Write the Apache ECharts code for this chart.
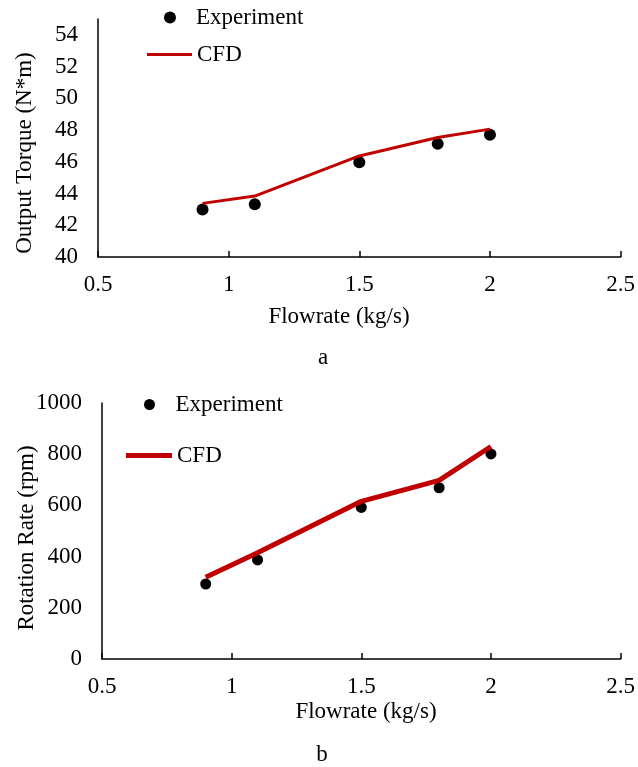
<!DOCTYPE html>
<html>
<head>
<meta charset="utf-8">
<script src="https://cdn.jsdelivr.net/npm/echarts@6/dist/echarts.min.js"></script>
<style>
html,body{margin:0;padding:0;background:#fff;}
#chart{width:638px;height:767px;}
</style>
</head>
<body>
<div id="chart"></div>
<script>
var flowrate = [0.9, 1.1, 1.5, 1.8, 2.0];
var torqueExperiment = [43.0, 43.33, 45.97, 47.13, 47.7];
var torqueCFD = [43.38, 43.84, 46.37, 47.53, 48.06];
var rpmExperiment = [293, 387, 592, 669, 801];
var rpmCFD = [319, 415, 616, 698, 830];

function pairs(xs, ys) { return xs.map(function (x, i) { return [x, ys[i]]; }); }

var FONT = '"Liberation Serif", "Times New Roman", serif';
var FS = 23;
var RED = '#C00000';
var txt = { fontFamily: FONT, fontSize: FS, color: '#000' };

function xAxisCfg(gi) {
  return {
    type: 'value', gridIndex: gi, min: 0.5, max: 2.5, interval: 0.5,
    axisLine: { lineStyle: { color: '#000', width: 1.5 } },
    axisTick: { show: true, inside: true, length: 6, lineStyle: { color: '#000', width: 1.5 } },
    axisLabel: Object.assign({ margin: 16, formatter: function (v) { return String(v); } }, txt),
    splitLine: { show: false }
  };
}
function yAxisCfg(gi, min, max, interval) {
  return {
    type: 'value', gridIndex: gi, min: min, max: max, interval: interval,
    axisLine: { show: true, lineStyle: { color: '#000', width: 1.5 } },
    axisTick: { show: false },
    axisLabel: Object.assign({ margin: 20, showMaxLabel: max % interval === 0,
      formatter: function (v) { return String(v); } }, txt),
    splitLine: { show: false }
  };
}

var chart = echarts.init(document.getElementById('chart'), null, { renderer: 'canvas' });
chart.setOption({
  backgroundColor: '#fff',
  animation: false,
  grid: [
    { left: 98, right: 15, top: 19, bottom: 510, containLabel: false },
    { left: 102, right: 16, top: 403, bottom: 108, containLabel: false }
  ],
  xAxis: [xAxisCfg(0), xAxisCfg(1)],
  yAxis: [yAxisCfg(0, 40, 55, 2), yAxisCfg(1, 0, 1000, 200)],
  legend: [
    { data: ['Experiment'], left: 164, top: 6, padding: 0, itemWidth: 42, itemHeight: 12, itemGap: 0, textStyle: txt, selectedMode: false },
    { data: [{ name: 'CFD', icon: 'rect' }], left: 147, top: 43, padding: 0, itemWidth: 45, itemHeight: 3, itemGap: 0,
      itemStyle: { color: RED }, textStyle: txt, selectedMode: false },
    { data: ['Experiment '], left: 144, top: 393, padding: 0, itemWidth: 42, itemHeight: 11, itemGap: 0, textStyle: txt, selectedMode: false },
    { data: [{ name: 'CFD ', icon: 'rect' }], left: 126, top: 444, padding: 0, itemWidth: 46, itemHeight: 5, itemGap: 0,
      itemStyle: { color: RED }, textStyle: txt, selectedMode: false,
      formatter: function (n) { return n.trim(); } }
  ],
  series: [
    { name: 'CFD', type: 'line', xAxisIndex: 0, yAxisIndex: 0, data: pairs(flowrate, torqueCFD),
      showSymbol: false, symbol: 'none', lineStyle: { color: RED, width: 3 }, itemStyle: { color: RED } },
    { name: 'Experiment', type: 'scatter', xAxisIndex: 0, yAxisIndex: 0, data: pairs(flowrate, torqueExperiment),
      symbol: 'circle', symbolSize: 12, itemStyle: { color: '#000', opacity: 1 } },
    { name: 'CFD ', type: 'line', xAxisIndex: 1, yAxisIndex: 1, data: pairs(flowrate, rpmCFD),
      showSymbol: false, symbol: 'none', lineStyle: { color: RED, width: 5 }, itemStyle: { color: RED } },
    { name: 'Experiment ', type: 'scatter', xAxisIndex: 1, yAxisIndex: 1, data: pairs(flowrate, rpmExperiment),
      symbol: 'circle', symbolSize: 11, itemStyle: { color: '#000', opacity: 1 } }
  ],
  graphic: [
    { type: 'text', x: 25, y: 153, rotation: Math.PI / 2,
      style: { text: 'Output Torque (N*m)', font: FS + 'px ' + FONT, fill: '#000', align: 'center', verticalAlign: 'middle' } },
    { type: 'text', x: 339, y: 317,
      style: { text: 'Flowrate (kg/s)', font: FS + 'px ' + FONT, fill: '#000', align: 'center', verticalAlign: 'middle' } },
    { type: 'text', x: 323, y: 358,
      style: { text: 'a', font: FS + 'px ' + FONT, fill: '#000', align: 'center', verticalAlign: 'middle' } },
    { type: 'text', x: 27, y: 538, rotation: Math.PI / 2,
      style: { text: 'Rotation Rate (rpm)', font: FS + 'px ' + FONT, fill: '#000', align: 'center', verticalAlign: 'middle' } },
    { type: 'text', x: 366, y: 712,
      style: { text: 'Flowrate (kg/s)', font: FS + 'px ' + FONT, fill: '#000', align: 'center', verticalAlign: 'middle' } },
    { type: 'text', x: 322, y: 755,
      style: { text: 'b', font: FS + 'px ' + FONT, fill: '#000', align: 'center', verticalAlign: 'middle' } }
  ]
});
</script>
</body>
</html>
